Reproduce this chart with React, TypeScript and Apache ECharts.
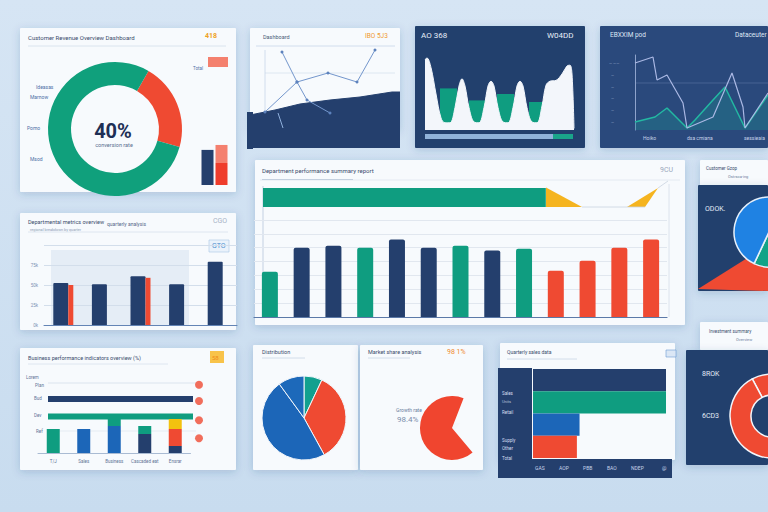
import { useEffect, useRef } from 'react';
import * as echarts from 'echarts';

// ---------- data ----------
const mainCategories = ['Jan', 'Feb', 'Mar', 'Apr', 'May', 'Jun', 'Jul', 'Aug', 'Sep', 'Oct', 'Nov', 'Dec', 'Tot'];
const mainValues = [49, 75, 77, 75, 84, 75, 77, 72, 74, 50, 61, 75, 84];
const mainGroups = ['B', 'A', 'A', 'B', 'A', 'A', 'B', 'A', 'B', 'C', 'C', 'C', 'C'];
const targetValue = [71.6];

const donutData = [
  { name: 'Returns', value: 21 },
  { name: 'Conversion', value: 79 },
];
const miniBarCategories = ['Plan', 'Actual'];
const miniBarValues = [78, 89];

const deptCategories = ['North', 'East', 'South', 'West', 'Central'];
const deptPrimary = [52.5, 51, 61, 51, 79];
const deptSecondary = [50, null, 59, null, null];

const kpiCategories = ['', 'Plan', 'Actual'];
const kpiValues = [null, 100, 100];
const kpiGroups = ['', 'navy', 'teal'];
const stackCategories = ['T/J', 'Sales', 'Business', 'Cascaded eat', 'Ensrar'];
const stackBase = [24, 24, 27, 19, 7];
const stackBaseGroups = ['teal', 'blue', 'blue', 'navy', 'navy'];
const stackMiddle = [null, null, 7, 8, 17];
const stackMiddleGroups = ['', '', 'teal', 'teal', 'red'];
const stackTop = [null, null, null, null, 10];
const alertLevels = [92, 65, 33, 3];

const trendArea = [[0, 33], [25, 38], [50, 44], [80, 48], [110, 51], [142, 56], [150, 56]];
const trendA = [[32, 96], [47, 66], [57, 48], [80, 35]];
const trendB = [[15, 36], [47, 66], [78, 75], [107, 66], [125, 98]];
const trendC = [[28, 35], [33, 20]];

const peakLine = [
  [8, 88], [10, 90], [14, 78], [19, 45], [24, 15], [28, 9], [33, 9], [38, 28], [42, 55], [45, 64],
  [48, 55], [52, 28], [57, 10], [62, 9], [67, 28], [71, 55], [74, 61], [77, 55], [81, 28], [86, 10],
  [91, 9], [96, 28], [100, 55], [103, 61], [106, 55], [110, 28], [115, 10], [120, 9], [125, 30],
  [129, 56], [133, 61], [139, 62], [145, 70], [150, 80], [153, 81], [155, 70], [157, 2],
];
const peakBlocks = [[31.5, 52], [60.5, 37], [88.5, 45], [120.5, 35]];

const dcLineA = [[0, 67], [18, 73], [22, 50], [32, 55], [48, 27], [52, 2], [78, 13], [97, 57], [108, 23], [110, 2], [133, 37]];
const dcLineB = [[0, 8], [20, 13], [32, 22], [52, 2], [60, 10], [78, 30], [90, 43], [110, 2], [133, 35]];

const shareData = [
  { name: 'Online', value: 7 },
  { name: 'Retail', value: 35 },
  { name: 'Wholesale', value: 48 },
  { name: 'Other', value: 10 },
];
const pacData = [
  { name: 'Growth', value: 67 },
  { name: 'Rest', value: 33 },
];
const segmentData = [
  { name: 'Enterprise', value: 57 },
  { name: 'SMB', value: 43 },
];
const ringData = [
  { name: 'Bonds', value: 8 },
  { name: 'Equity', value: 92 },
];
const regionCategories = ['North', 'East', 'South', 'West'];
const regionValues = [100, 100, 35, 33];

// ---------- styles ----------
const NAVY = '#243f6d';
const NAVY2 = '#2a4a7b';
const TEAL = '#0f9d80';
const RED = '#ef4a32';
const BLUE = '#1c66b8';
const YELLOW = '#f5b41f';
const WHITE = '#f7fafd';
const FONT = 'Roboto, "DejaVu Sans", sans-serif';
const colorOf: Record<string, string> = { A: NAVY, B: TEAL, C: RED, navy: NAVY, teal: TEAL, red: RED, blue: BLUE, yellow: YELLOW };

const panel = (x: number, y: number, w: number, h: number, fill: string) => ({
  type: 'rect',
  shape: { x, y, width: w, height: h, r: 1 },
  style: { fill, shadowBlur: 8, shadowColor: 'rgba(40,70,120,0.2)', shadowOffsetY: 2 },
});
const txt = (x: number, y: number, text: string, size: number, fill: string, opts: any = {}) => ({
  type: 'text',
  x,
  y,
  style: {
    text,
    fill,
    font: `${opts.weight || 'normal'} ${size}px ${FONT}`,
    textAlign: opts.align || 'left',
    textVerticalAlign: 'middle',
  },
});
const hline = (x1: number, x2: number, y: number, stroke: string, w = 0.8) => ({
  type: 'line',
  shape: { x1, y1: y, x2, y2: y },
  style: { stroke, lineWidth: w },
});
const vline = (x: number, y1: number, y2: number, stroke: string, w = 0.8) => ({
  type: 'line',
  shape: { x1: x, y1, x2: x, y2 },
  style: { stroke, lineWidth: w },
});

export default function App() {
  const ref = useRef<HTMLDivElement>(null);

  useEffect(() => {
    if (!ref.current) return;
    const chart = echarts.init(ref.current, null, { renderer: 'svg' });

    const hiddenCat = (gridIndex: number, data: string[], extra: any = {}) => ({
      type: 'category', gridIndex, data, show: false, ...extra,
    });
    const hiddenVal = (gridIndex: number, min: number, max: number, extra: any = {}) => ({
      type: 'value', gridIndex, min, max, show: false, splitLine: { show: false }, ...extra,
    });

    const grids = [
      { left: 254, top: 220, width: 413, height: 97 }, // 0 main bars
      { left: 263, top: 188, width: 395, height: 19 }, // 1 target bar
      { left: 200.5, top: 140, width: 28, height: 45 }, // 2 mini bars
      { left: 44, top: 245, width: 193, height: 80 }, // 3 dept bars
      { left: 48, top: 372.75, width: 145, height: 52.5 }, // 4 kpi hbars
      { left: 38, top: 413, width: 152.5, height: 40 }, // 5 stack
      { left: 194, top: 380, width: 10, height: 60 }, // 6 alert dots
      { left: 250, top: 28, width: 150, height: 120 }, // 7 trend lines
      { left: 417, top: 50, width: 168, height: 80 }, // 8 peaks
      { left: 635, top: 55, width: 133, height: 75 }, // 9 datacenter lines
      { left: 533, top: 369, width: 133, height: 89 }, // 10 region hbars
    ];

    const xAxis: any[] = [
      { type: 'category', gridIndex: 0, data: mainCategories, axisLine: { lineStyle: { color: '#5b79a8', width: 1.2 } }, axisTick: { show: false }, axisLabel: { show: false } },
      hiddenVal(1, 0, 100),
      hiddenCat(2, miniBarCategories),
      { type: 'category', gridIndex: 3, data: deptCategories, axisLine: { lineStyle: { color: '#6384b5', width: 1 } }, axisTick: { show: false }, axisLabel: { show: false } },
      hiddenVal(4, 0, 100),
      { type: 'category', gridIndex: 5, data: stackCategories, axisLine: { lineStyle: { color: '#a9bbd3' } }, axisTick: { show: false }, axisLabel: { interval: 0, fontSize: 4.5, color: '#5e7396', margin: 6, fontFamily: FONT } },
      hiddenVal(6, 0, 10),
      hiddenVal(7, 0, 150),
      hiddenVal(8, 0, 168),
      hiddenVal(9, 0, 133),
      hiddenVal(10, 0, 100),
    ];
    const yAxis: any[] = [
      { type: 'value', gridIndex: 0, min: 0, max: 105, interval: 15, axisLabel: { show: false }, axisLine: { show: false }, axisTick: { show: false }, splitLine: { lineStyle: { color: '#e1e7ef' } } },
      hiddenCat(1, ['Target']),
      hiddenVal(2, 0, 100),
      { type: 'value', gridIndex: 3, min: 0, max: 100, interval: 25, axisLine: { show: false }, axisTick: { show: false }, axisLabel: { fontSize: 4.5, color: '#7d92b4', margin: 6, formatter: (v: number) => (v === 100 ? '' : `${v}k`) }, splitLine: { lineStyle: { color: '#d3deeb' } } },
      hiddenCat(4, kpiCategories, { inverse: true }),
      hiddenVal(5, 0, 40),
      hiddenVal(6, 0, 100),
      hiddenVal(7, 0, 120),
      hiddenVal(8, 0, 100),
      { type: 'value', gridIndex: 9, min: 0, max: 75, axisLine: { show: true, lineStyle: { color: '#8ea3cc' } }, axisTick: { show: false }, axisLabel: { show: false }, splitLine: { show: false } },
      hiddenCat(10, regionCategories, { inverse: true }),
    ];

    const pieBase = { type: 'pie', label: { show: false }, labelLine: { show: false }, silent: true };

    const series: any[] = [
      {
        type: 'bar', xAxisIndex: 0, yAxisIndex: 0, barWidth: 16,
        data: mainValues.map((v, i) => ({ value: v, itemStyle: { color: colorOf[mainGroups[i]], borderRadius: [2, 2, 0, 0] } })),
      },
      { type: 'bar', xAxisIndex: 1, yAxisIndex: 1, barWidth: 19, data: targetValue, itemStyle: { color: TEAL } },
      {
        type: 'bar', xAxisIndex: 2, yAxisIndex: 2, barWidth: 12,
        data: [
          { value: miniBarValues[0], itemStyle: { color: NAVY } },
          {
            value: miniBarValues[1],
            itemStyle: {
              color: new echarts.graphic.LinearGradient(0, 0, 0, 1, [
                { offset: 0, color: '#f4806f' },
                { offset: 0.44, color: '#f4806f' },
                { offset: 0.46, color: '#ef3d2c' },
                { offset: 1, color: '#ef3d2c' },
              ]),
            },
          },
        ],
      },
      { type: 'bar', xAxisIndex: 3, yAxisIndex: 3, barWidth: 15, barGap: '0%', data: deptPrimary, itemStyle: { color: NAVY, borderRadius: [1, 1, 0, 0] } },
      { type: 'bar', xAxisIndex: 3, yAxisIndex: 3, barWidth: 5, barGap: '0%', data: deptSecondary, itemStyle: { color: RED } },
      {
        type: 'bar', xAxisIndex: 4, yAxisIndex: 4, barWidth: 6,
        data: kpiValues.map((v, i) => (v == null ? null : { value: v, itemStyle: { color: colorOf[kpiGroups[i]] } })),
      },
      {
        type: 'bar', xAxisIndex: 5, yAxisIndex: 5, stack: 'k', barWidth: 13,
        data: stackBase.map((v, i) => ({ value: v, itemStyle: { color: colorOf[stackBaseGroups[i]] } })),
      },
      {
        type: 'bar', xAxisIndex: 5, yAxisIndex: 5, stack: 'k', barWidth: 13,
        data: stackMiddle.map((v, i) => (v == null ? null : { value: v, itemStyle: { color: colorOf[stackMiddleGroups[i]] } })),
      },
      { type: 'bar', xAxisIndex: 5, yAxisIndex: 5, stack: 'k', barWidth: 13, data: stackTop, itemStyle: { color: '#f3c20f' } },
      {
        type: 'scatter', xAxisIndex: 6, yAxisIndex: 6, symbolSize: 8,
        data: alertLevels.map((v) => [5, v]), itemStyle: { color: RED },
      },
      {
        type: 'line', xAxisIndex: 7, yAxisIndex: 7, data: trendArea, symbol: 'none',
        lineStyle: { color: NAVY, width: 1 }, areaStyle: { color: NAVY, opacity: 1 },
      },
      { type: 'line', xAxisIndex: 7, yAxisIndex: 7, data: trendA, symbol: 'circle', symbolSize: 3, lineStyle: { color: '#7396cc', width: 1 }, itemStyle: { color: '#5d82bd' } },
      { type: 'line', xAxisIndex: 7, yAxisIndex: 7, data: trendB, symbol: 'circle', symbolSize: 3, lineStyle: { color: '#7396cc', width: 1 }, itemStyle: { color: '#5d82bd' } },
      { type: 'line', xAxisIndex: 7, yAxisIndex: 7, data: trendC, symbol: 'none', lineStyle: { color: '#8fb0dd', width: 1 } },
      { type: 'bar', xAxisIndex: 8, yAxisIndex: 8, barWidth: 17, data: peakBlocks, itemStyle: { color: TEAL } },
      {
        type: 'line', xAxisIndex: 8, yAxisIndex: 8, data: peakLine, symbol: 'none', smooth: 0.35,
        lineStyle: { color: '#f3f6fb', width: 1 }, areaStyle: { color: '#f3f6fb', opacity: 1 },
      },
      {
        type: 'line', xAxisIndex: 9, yAxisIndex: 9, data: dcLineB, symbol: 'none',
        lineStyle: { color: '#23b8a2', width: 1.5 }, areaStyle: { color: '#1e8f93', opacity: 0.35 },
      },
      { type: 'line', xAxisIndex: 9, yAxisIndex: 9, data: dcLineA, symbol: 'none', lineStyle: { color: '#aab8e4', width: 1.2 } },
      {
        type: 'bar', xAxisIndex: 10, yAxisIndex: 10, barCategoryGap: '0%',
        data: regionValues.map((v, i) => ({ value: v, itemStyle: { color: [NAVY, TEAL, BLUE, RED][i] } })),
      },
      {
        ...pieBase, center: [115, 129], radius: [44, 67], startAngle: 60, data: donutData,
        color: [RED, '#10a07c'],
      },
      {
        ...pieBase, center: [304, 418], radius: 42, startAngle: 90, data: shareData,
        color: ['#12a08f', RED, BLUE, '#1d69ba'], itemStyle: { borderColor: '#f2f6fb', borderWidth: 1 },
      },
      {
        ...pieBase, center: [452, 428], radius: 32, startAngle: -50, data: pacData,
        color: ['#f0452f', 'rgba(0,0,0,0)'],
      },
      {
        ...pieBase, center: [769, 232], radius: 35, startAngle: 90, data: segmentData,
        color: ['#12a387', '#1f82e3'], itemStyle: { borderColor: '#e6f0fb', borderWidth: 1.5 },
      },
      {
        ...pieBase, center: [772, 416], radius: [21, 42], startAngle: 118, data: ringData,
        color: [RED, RED], itemStyle: { borderColor: '#f3f6fb', borderWidth: 1.5 },
      },
    ];

    const graphic: any[] = [
      // background
      {
        type: 'rect', shape: { x: 0, y: 0, width: 768, height: 512 },
        style: {
          fill: new echarts.graphic.LinearGradient(0, 0, 0, 1, [
            { offset: 0, color: '#d6e5f4' },
            { offset: 1, color: '#c8dcef' },
          ]),
        },
      },
      // panels
      panel(20, 28, 216, 164, WHITE),
      panel(250, 28, 150, 102, WHITE),
      { type: 'rect', shape: { x: 247, y: 112, width: 6, height: 37 }, style: { fill: NAVY } },
      panel(415, 26, 170, 122, NAVY),
      panel(600, 26, 168, 122, NAVY2),
      panel(255, 160, 430, 165, WHITE),
      panel(700, 160, 68, 26, WHITE),
      panel(698, 185, 70, 106, NAVY),
      panel(20, 213, 216, 117, WHITE),
      panel(20, 348, 216, 122, WHITE),
      panel(253, 345, 105, 125, WHITE),
      panel(360, 345, 123, 125, WHITE),
      panel(500, 343, 175, 117, WHITE),
      { type: 'rect', shape: { x: 498, y: 368, width: 34, height: 110 }, style: { fill: NAVY } },
      { type: 'rect', shape: { x: 498, y: 459, width: 174, height: 19 }, style: { fill: NAVY } },
      panel(700, 322, 68, 28, WHITE),
      panel(686, 350, 82, 115, NAVY),

      // P1 texts
      txt(28, 37, 'Customer Revenue Overview Dashboard', 6, '#3a4b6b'),
      txt(205, 36, '418', 7, '#eea224', { weight: 'bold' }),
      hline(28, 226, 46, '#d3deea'),
      { type: 'rect', shape: { x: 208, y: 57, width: 20, height: 10 }, style: { fill: '#f4806e' } },
      txt(193, 68, 'Total', 4.5, '#4d6fa6'),
      txt(36, 87, 'Ideasas', 5, '#4d6fa6'),
      txt(30, 97, 'Marnow', 5, '#4d6fa6'),
      txt(27, 128, 'Pomo', 5, '#4d6fa6'),
      txt(30, 159, 'Msod', 5, '#4d6fa6'),
      txt(113, 131, '40%', 20, '#1e2f55', { align: 'center', weight: 'bold' }),
      txt(114, 145, 'conversion rate', 5.5, '#5a6f90', { align: 'center' }),

      // P2 texts
      txt(263, 37, 'Dashboard', 5.5, '#4a5a78'),
      txt(365, 36, 'IBO 5J3', 6.5, '#f09a30'),
      hline(256, 395, 46, '#c8d6e8'),
      hline(265, 395, 73, '#d7e2ee'),
      vline(265, 50, 112, '#c8d6e8'),
      txt(262, 138, '2307 /BG08', 6, '#c3d2e8'),
      txt(316, 138, 'WRS3/GOO', 6, '#c3d2e8'),
      txt(376, 138, '6O10', 7, '#dbe5f2'),

      // P3 texts
      txt(421, 35, 'AO 368', 8, '#e6eef8'),
      txt(547, 35, 'W04DD', 8, '#e6eef8'),
      { type: 'rect', shape: { x: 425, y: 134, width: 148, height: 5 }, style: { fill: '#8fb3da' } },
      { type: 'rect', shape: { x: 553, y: 134, width: 20, height: 5 }, style: { fill: '#1aa58a' } },

      // P4 texts
      txt(610, 35, 'EBXXIM pod', 6.5, '#dfe8f5'),
      txt(735, 35, 'Dataceuter', 6.5, '#dfe8f5'),
      hline(635, 768, 83, '#4e6b9a'),
      txt(609, 63, '— ——', 4, '#a6b6d6'),
      txt(611, 75, '—', 4, '#a6b6d6'),
      txt(611, 87, '—', 4, '#a6b6d6'),
      txt(611, 98, '—', 4, '#a6b6d6'),
      txt(611, 110, '—', 4, '#a6b6d6'),
      txt(611, 122, '—', 4, '#a6b6d6'),
      txt(643, 138, 'Hoiko', 5, '#c6d3ea'),
      txt(687, 138, 'dsa cmiana', 5, '#c6d3ea'),
      txt(744, 138, 'sessieaia', 5, '#c6d3ea'),

      // P5 texts
      txt(262, 170, 'Department performance summary report', 6, '#3a4c6c'),
      txt(660, 170, '9CU', 7, '#9aa8bc'),
      hline(260, 680, 180, '#dfe6ef'),
      hline(262, 353, 179.5, '#b9c6d8'),
      vline(263, 186, 317, '#b6c5da'),
      vline(669, 184, 317, '#d5dde8'),
      { type: 'polygon', shape: { points: [[546, 187.5], [582, 207], [546, 207]] }, style: { fill: YELLOW } },
      { type: 'polygon', shape: { points: [[627, 207], [658, 188], [645, 207]] }, style: { fill: YELLOW } },
      hline(582, 645, 207, '#c9d3e0'),
      { type: 'line', shape: { x1: 658, y1: 188, x2: 668, y2: 181 }, style: { stroke: '#c9d3e0', lineWidth: 0.8 } },

      // P6 texts
      txt(706, 168, 'Customer Gzop', 4.5, '#3a4c6c'),
      txt(728, 176, 'Ostrsca-ing', 4, '#6d7f9c'),
      { type: 'polygon', shape: { points: [[698, 289], [768, 245], [768, 291]] }, style: { fill: RED } },
      txt(705, 209, 'ODOK.', 7, '#e3ebf7'),

      // P7 texts
      txt(28, 222, 'Departmental metrics overview', 5.5, '#3a4c6c'),
      txt(30, 229, 'regional breakdown by quarter', 3.8, '#8a9ab4'),
      txt(107, 224, 'quarterly analysis', 5, '#56698a'),
      hline(28, 228, 232, '#d8e1ec'),
      txt(213, 221, 'CGO', 7, '#a7b3c5'),
      { type: 'rect', shape: { x: 209, y: 240, width: 20, height: 12 }, style: { fill: '#eaf2fb', stroke: '#a8c6e6', lineWidth: 0.6 } },
      txt(212, 246, 'GTO', 7, '#4a8fd0'),
      { type: 'rect', shape: { x: 51, y: 250, width: 138, height: 75 }, style: { fill: '#e5edf6' } },

      // P8 texts
      txt(28, 358, 'Business performance indicators overview (%)', 5.5, '#3a4c6c'),
      hline(28, 168, 364, '#d8e1ec'),
      { type: 'rect', shape: { x: 210, y: 351, width: 14, height: 12 }, style: { fill: '#f8c34a' } },
      txt(212, 357, '58', 6, '#f08a18'),
      txt(26, 377, 'Lorem', 4.5, '#5e7396'),
      txt(35, 385, 'Plan', 4.5, '#5e7396'),
      txt(34, 398, 'Bud', 4.5, '#5e7396'),
      txt(34, 415, 'Dev', 4.5, '#5e7396'),
      txt(36, 431, 'Ref', 4.5, '#5e7396'),
      hline(48, 196, 383, '#d4deea'),
      hline(48, 196, 431, '#e1e8f0'),

      // P9 texts
      txt(262, 352, 'Distribution', 5.5, '#3a4c6c'),
      hline(262, 305, 358, '#c9d5e4'),
      txt(368, 352, 'Market share analysis', 5.5, '#3a4c6c'),
      hline(368, 410, 358, '#c9d5e4'),
      txt(447, 352, '98 1%', 7, '#f08a30'),
      txt(396, 410, 'Growth rate', 5, '#6b7f9f'),
      txt(397, 419, '98.4%', 8, '#7a8cab'),
      { type: 'polygon', shape: { points: [[436, 421], [460, 423], [453, 433]] }, style: { fill: '#f4f7fb' } },

      // P10 texts
      txt(507, 352, 'Quarterly sales data', 5, '#3a4c6c'),
      hline(507, 577, 359, '#c9d5e4'),
      { type: 'rect', shape: { x: 666, y: 350, width: 10, height: 7 }, style: { fill: '#dbe7f5', stroke: '#6b9ad3', lineWidth: 0.6 } },
      txt(502, 393, 'Sales', 4.5, '#d4def0'),
      txt(502, 401, 'Units', 4, '#b5c4dd'),
      txt(502, 412, 'Retail', 4.5, '#d4def0'),
      txt(502, 440, 'Supply', 4.5, '#d4def0'),
      txt(502, 448, 'Other', 4.5, '#d4def0'),
      txt(502, 458, 'Total', 4.5, '#d4def0'),
      txt(535, 468, 'GAS', 5, '#c6d3ea'),
      txt(559, 468, 'AOP', 5, '#c6d3ea'),
      txt(583, 468, 'PBB', 5, '#c6d3ea'),
      txt(607, 468, 'BAO', 5, '#c6d3ea'),
      txt(631, 468, 'NDEP', 5, '#c6d3ea'),
      txt(662, 468, '@', 5, '#c6d3ea'),

      // P11 texts
      txt(709, 331, 'Investment summary', 4.5, '#3a4c6c'),
      txt(736, 339, 'Overview', 4, '#6d7f9c'),
      txt(702, 374, '8ROK', 7, '#e3ebf7'),
      txt(702, 416, '6CD3', 7, '#e3ebf7'),
    ];

    chart.setOption({
      animation: false,
      backgroundColor: 'transparent',
      textStyle: { fontFamily: FONT },
      grid: grids,
      xAxis,
      yAxis,
      series,
      graphic,
    });

    return () => chart.dispose();
  }, []);

  return <div ref={ref} style={{ position: 'absolute', left: 0, top: 0, width: 768, height: 512 }} />;
}
